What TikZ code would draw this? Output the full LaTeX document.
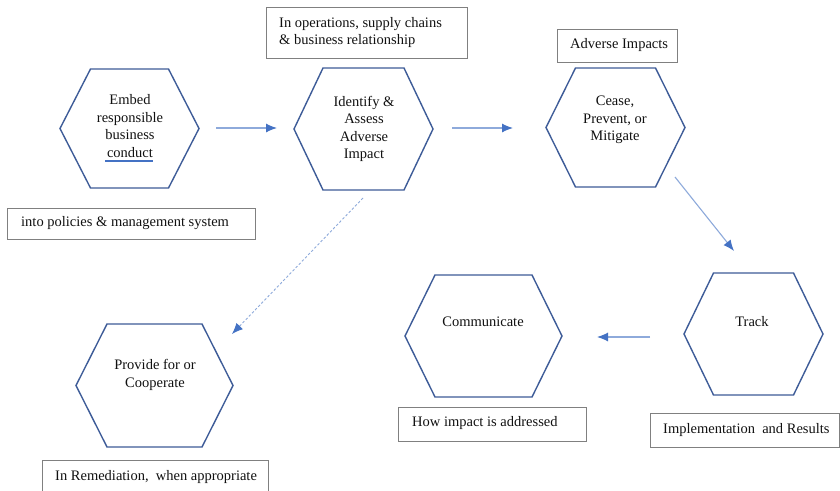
\documentclass[tikz,border=0pt]{standalone}
\usepackage{fontspec}
\setmainfont{Liberation Serif}
\usetikzlibrary{arrows.meta,calc}
\definecolor{hexblue}{HTML}{3E5C98}
\definecolor{arrblue}{HTML}{4472C4}
\definecolor{arrline}{HTML}{8EAADB}
\definecolor{boxgray}{HTML}{808080}
\definecolor{txt}{HTML}{111111}
\tikzset{
  hexline/.style={draw=hexblue, line width=1.4pt, line join=miter},
  hextext/.style={align=center, font=\fontsize{14.5}{17.5}\selectfont, text=txt, inner sep=0pt},
  infobox/.style={draw=boxgray, line width=0.9pt, fill=white},
  boxtext/.style={anchor=west, font=\fontsize{14.5}{17.5}\selectfont, text=txt, inner sep=0pt, align=left},
  flow/.style={draw=arrline, line width=1.1pt, -{Latex[length=11pt,width=9pt,color=arrblue]}},
  dflow/.style={draw=arrline, line width=0.9pt, dash pattern=on 2.5pt off 2pt, -{Latex[length=11pt,width=9pt,color=arrblue]}}
}
% hexagon: #1 name, #2 cx, #3 cy, #4 half width, #5 half top edge, #6 half height
\newcommand{\hexshape}[6]{%
  \coordinate (#1) at (#2,#3);
  \draw[hexline] ($(#2,#3)+(-#5,-#6)$) -- ($(#2,#3)+(#5,-#6)$) -- ($(#2,#3)+(#4,0)$)
    -- ($(#2,#3)+(#5,#6)$) -- ($(#2,#3)+(-#5,#6)$) -- ($(#2,#3)+(-#4,0)$) -- cycle;
}
\begin{document}
\begin{tikzpicture}[x=1pt,y=-1pt]
\useasboundingbox (0,0) rectangle (840,490);
\fill[white] (0,0) rectangle (840,490);
\begin{scope}
\clip (0,0) rectangle (840,490);

% hexagons
\hexshape{hEmbed}{129.5}{128.5}{69.5}{39}{59.5}
\hexshape{hIdent}{363.5}{129}{69.5}{40.5}{61}
\hexshape{hCease}{615.5}{127.5}{69.5}{40}{59.5}
\hexshape{hProv}{154.5}{385.5}{78.5}{47.5}{61.5}
\hexshape{hComm}{483.5}{336}{78.5}{48.5}{61}
\hexshape{hTrack}{753.5}{334}{69.5}{40}{61}

% hexagon texts
\node[hextext] (tEmbed) at (130,126) {Embed\\responsible\\business\\conduct};
\draw[arrblue, line width=1.1pt] (105,161) -- (153,161);
\node[hextext] (tIdent) at (364,129) {Identify \&\\Assess\\Adverse\\Impact};
\node[hextext] (tCease) at (615,120) {Cease,\\Prevent, or\\Mitigate};
\node[hextext] (tProv) at (155,375) {Provide for or\\Cooperate};
\node[hextext] (tComm) at (483,322) {Communicate};
\node[hextext] (tTrack) at (752,322) {Track};

% info boxes
\draw[infobox] (266,7) rectangle (467,58);
\node[boxtext] (bOps) at (279,32.5) {In operations, supply chains\\\& business relationship};
\draw[infobox] (557,29) rectangle (677,62);
\node[boxtext] (bAdv) at (570,45.5) {Adverse Impacts};
\draw[infobox] (7,208) rectangle (255,239);
\node[boxtext] (bPol) at (21,223.5) {into policies \& management system};
\draw[infobox] (42,460) rectangle (268,500);
\node[boxtext] (bRem) at (55,477) {In Remediation,\ \ when appropriate};
\draw[infobox] (398,407) rectangle (586,441);
\node[boxtext] (bHow) at (412,423) {How impact is addressed};
\draw[infobox] (650,413) rectangle (839,447);
\node[boxtext] (bImp) at (663,430) {Implementation\ \ and Results};

% connector end points
\coordinate (a1s) at (216,128);
\coordinate (a1e) at (277,128);
\coordinate (a2s) at (452,128);
\coordinate (a2e) at (513,128);
\coordinate (a3s) at (675,177);
\coordinate (a3e) at (734,251);
\coordinate (a4s) at (650,337);
\coordinate (a4e) at (597,337);
\coordinate (a5s) at (363,198);
\coordinate (a5e) at (232,334);

\draw[flow] (a1s) -- (a1e);
\draw[flow] (a2s) -- (a2e);
\draw[flow] (a3s) -- (a3e);
\draw[flow] (a4s) -- (a4e);
\draw[dflow] (a5s) -- (a5e);
\end{scope}
\end{tikzpicture}
\end{document}
